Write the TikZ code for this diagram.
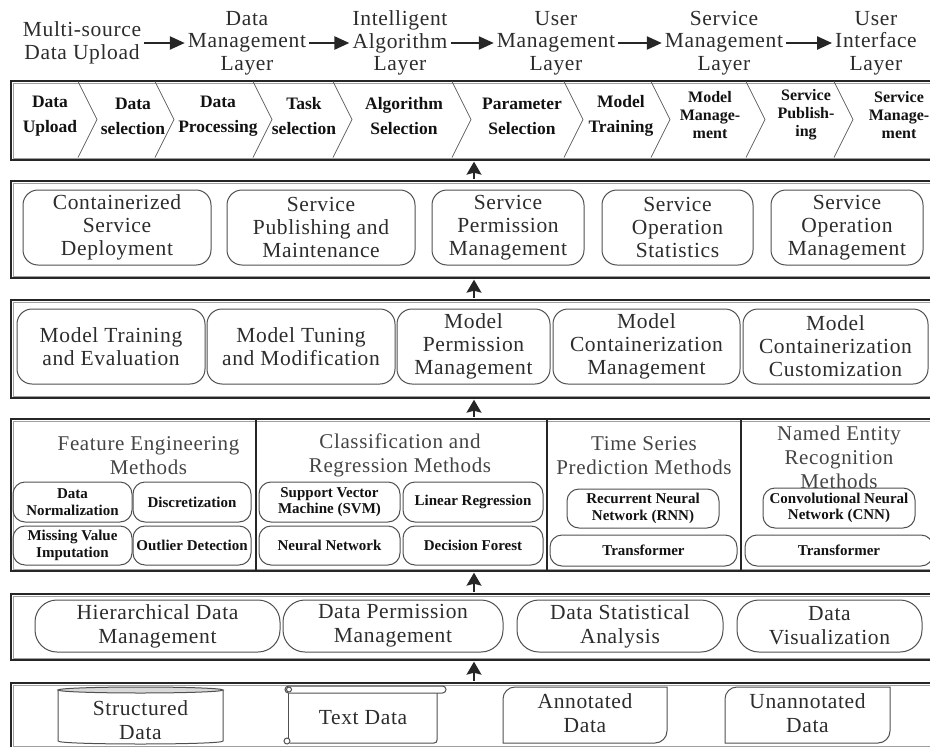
\documentclass[tikz,border=0pt]{standalone}
\usepackage{fontspec}
\setmainfont{Liberation Serif}[LetterSpace=3]
\newfontfamily\boldlbl{Liberation Serif}
\usetikzlibrary{arrows.meta,calc}

\definecolor{ink}{HTML}{2C2C2C}
\definecolor{boldink}{HTML}{121212}
\definecolor{frame}{HTML}{262626}
\definecolor{edge}{HTML}{505050}
\definecolor{titleink}{HTML}{444444}

\tikzset{
  every node/.style={align=center, inner sep=0pt, text=ink},
  layer/.style={draw=frame, line width=1.8pt, rectangle, anchor=north west, minimum width=940pt},
  innerframe/.style={draw=gray!75, line width=0.5pt},
  toptxt/.style={font=\fontsize{21.5}{22.5}\selectfont},
  flowarrow/.style={draw=frame, line width=2.4pt, -{Triangle[length=15pt,width=13pt]}, shorten <=3pt, shorten >=3pt},
  uparrow/.style={draw=frame, line width=1.3pt, -{Stealth[length=13pt,width=15pt,inset=2pt]}, shorten >=0.9pt, shorten <=0.9pt},
  chevline/.style={draw=gray!80!black, line width=0.8pt},
  chevtxt/.style={font=\boldlbl\bfseries\fontsize{17.5}{25}\selectfont, text=boldink},
  chevtxtsm/.style={font=\boldlbl\bfseries\fontsize{16}{18}\selectfont, text=boldink},
  rbox/.style={draw=edge, line width=1pt, rounded corners=15pt, font=\fontsize{21.5}{23}\selectfont},
  dbox/.style={rbox, rounded corners=22pt, font=\fontsize{21.5}{24}\selectfont},
  sbox/.style={draw=edge, line width=1pt, rounded corners=12pt, font=\boldlbl\bfseries\fontsize{15}{16.5}\selectfont, text=boldink},
  sectitle/.style={font=\fontsize{21}{24}\selectfont, text=titleink},
  divider/.style={draw=frame, line width=1.5pt},
  srcline/.style={draw=edge, line width=1pt},
  srctxt/.style={font=\fontsize{21.5}{24}\selectfont}
}

\begin{document}
\begin{tikzpicture}[x=1pt,y=-1pt]
\useasboundingbox (0,0) rectangle (930,747);
\clip (0,0) rectangle (930,747);

% ---- layer headings and flow ----
\node[toptxt] (h1) at (82,43) {Multi-source\\Data Upload};
\node[toptxt] (h2) at (247,43) {Data\\Management\\Layer};
\node[toptxt] (h3) at (400,43) {Intelligent\\Algorithm\\Layer};
\node[toptxt] (h4) at (556,43) {User\\Management\\Layer};
\node[toptxt] (h5) at (724,43) {Service\\Management\\Layer};
\node[toptxt] (h6) at (876,43) {User\\Interface\\Layer};
\draw[flowarrow] (h1) -- (h2);
\draw[flowarrow] (h2) -- (h3);
\draw[flowarrow] (h3) -- (h4);
\draw[flowarrow] (h4) -- (h5);
\draw[flowarrow] (h5) -- (h6);

% ---- layer frames ----
\node[layer, minimum height=79pt] (chev) at (10,80) {};
\node[layer, minimum height=97pt] (serv) at (10,180) {};
\node[layer, minimum height=98pt] (model) at (10,299) {};
\node[layer, minimum height=152pt] (algo) at (10,418) {};
\node[layer, minimum height=66pt] (dmgmt) at (10,593) {};
\node[layer, minimum height=65pt] (src) at (10,682) {};
\foreach \n in {chev,serv,model,algo,dmgmt,src}
  \draw[innerframe] ($(\n.north west)+(2.8,2.8)$) rectangle ($(\n.south east)+(-2.8,-2.8)$);

% ---- arrows between layers ----
\coordinate (ax) at (474,0);
\draw[uparrow] (serv.north -| ax) -- (chev.south -| ax);
\draw[uparrow] (model.north -| ax) -- (serv.south -| ax);
\draw[uparrow] (algo.north -| ax) -- (model.south -| ax);
\draw[uparrow] (dmgmt.north -| ax) -- (algo.south -| ax);
\draw[uparrow] (src.north -| ax) -- (dmgmt.south -| ax);

% ---- process chevrons ----
\foreach \xt in {78,155,253,333,452,564,651,746,834}
  \draw[chevline] (\xt,81.5) -- (\xt+19,119.5) -- (\xt,157.5);
\node[chevtxt] (c1) at (50,116) {Data\\Upload};
\node[chevtxt] (c2) at (133,116) {Data\\selection};
\node[chevtxt] (c3) at (218,116) {Data\\Processing};
\node[chevtxt] (c4) at (304,116) {Task\\selection};
\node[chevtxt] (c5) at (404,116) {Algorithm\\Selection};
\node[chevtxt] (c6) at (522,116) {Parameter\\Selection};
\node[chevtxt] (c7) at (621,116) {Model\\Training};
\node[chevtxtsm] (c8) at (710,115) {Model\\Manage-\\ment};
\node[chevtxtsm] (c9) at (806,115) {Service\\Publish-\\ing};
\node[chevtxtsm] (c10) at (899,115) {Service\\Manage-\\ment};

% ---- service layer ----
\node[rbox, minimum width=188pt, minimum height=75pt] (s1) at (117,227.5) {Containerized\\Service\\Deployment};
\node[rbox, minimum width=188pt, minimum height=75pt] (s2) at (321,227.5) {Service\\Publishing and\\Maintenance};
\node[rbox, minimum width=152pt, minimum height=75pt] (s3) at (508,227.5) {Service\\Permission\\Management};
\node[rbox, minimum width=151pt, minimum height=75pt] (s4) at (677.5,227.5) {Service\\Operation\\Statistics};
\node[rbox, minimum width=152pt, minimum height=75pt] (s5) at (847,227.5) {Service\\Operation\\Management};

% ---- model layer ----
\node[rbox, minimum width=188pt, minimum height=75pt] (m1) at (111,346.5) {Model Training\\and Evaluation};
\node[rbox, minimum width=188pt, minimum height=75pt] (m2) at (301,346.5) {Model Tuning\\and Modification};
\node[rbox, minimum width=153pt, minimum height=75pt] (m3) at (473.5,346.5) {Model\\Permission\\Management};
\node[rbox, minimum width=187pt, minimum height=75pt] (m4) at (646.5,346.5) {Model\\Containerization\\Management};
\node[rbox, minimum width=185pt, minimum height=75pt] (m5) at (835.5,346.5) {Model\\Containerization\\Customization};

% ---- algorithm layer ----
\draw[divider] (256,418) -- (256,570);
\draw[divider] (547,418) -- (547,570);
\draw[divider] (741,418) -- (741,570);
\node[sectitle] (fet) at (148.5,455.5) {Feature Engineering\\Methods};
\node[sectitle] (crt) at (400,455.5) {Classification and\\Regression Methods};
\node[sectitle] (tst) at (644,455.5) {Time Series\\Prediction Methods};
\node[sectitle] (net) at (839,457) {Named Entity\\Recognition\\Methods};

\node[sbox, minimum width=119pt, minimum height=40pt] (fe1) at (72.5,502) {Data\\Normalization};
\node[sbox, minimum width=118pt, minimum height=40pt] (fe2) at (192,502) {Discretization};
\node[sbox, minimum width=119pt, minimum height=39pt] (fe3) at (72.5,545.5) {Missing Value\\Imputation};
\node[sbox, minimum width=118pt, minimum height=39pt] (fe4) at (192,545.5) {Outlier Detection};
\node[sbox, minimum width=141pt, minimum height=40pt] (cr1) at (329.5,502) {Support Vector\\Machine (SVM)};
\node[sbox, minimum width=140pt, minimum height=40pt] (cr2) at (473,502) {Linear Regression};
\node[sbox, minimum width=141pt, minimum height=39pt] (cr3) at (329.5,545.5) {Neural Network};
\node[sbox, minimum width=140pt, minimum height=39pt] (cr4) at (473,545.5) {Decision Forest};
\node[sbox, minimum width=152pt, minimum height=39pt] (ts1) at (643,508.5) {Recurrent Neural\\Network (RNN)};
\node[sbox, minimum width=187pt, minimum height=31pt] (ts2) at (643.5,550.5) {Transformer};
\node[sbox, minimum width=152pt, minimum height=40pt] (ne1) at (839,508) {Convolutional Neural\\Network (CNN)};
\node[sbox, minimum width=188pt, minimum height=31pt] (ne2) at (839,550.5) {Transformer};

% ---- data management layer ----
\node[dbox, minimum width=245pt, minimum height=52pt] (d1) at (157.5,626) {Hierarchical Data\\Management};
\node[dbox, minimum width=220pt, minimum height=52pt] (d2) at (393,626) {Data Permission\\Management};
\node[dbox, minimum width=206pt, minimum height=52pt] (d3) at (620,626) {Data Statistical\\Analysis};
\node[dbox, minimum width=185pt, minimum height=52pt] (d4) at (829.5,626) {Data\\Visualization};

% ---- data sources ----
% database cylinder
\draw[srcline] (58,690) -- (58,741) .. controls (58,745) and (223,745) .. (223,741) -- (223,690);
\draw[srcline, fill=gray!30] (140.5,690) ellipse [x radius=82.5, y radius=3];
\node[srctxt] (struct) at (140.5,720) {Structured\\Data};

% paper scroll
\draw[srcline] (288,693) -- (288,741);
\draw[srcline] (437,693) -- (437,740) .. controls (437,742) and (436,743) .. (434,743) -- (290,743);
\draw[srcline, rounded corners=3.5pt, fill=white] (285,686) rectangle (446,693);
\draw[srcline] (289,689.5) circle [radius=2.5pt];
\draw[srcline, fill=white] (287,741) circle [radius=3pt];
\node[srctxt] (textd) at (363,718) {Text Data};

% documents with two rounded corners
\draw[srcline] (503,743) -- (503,699) .. controls (503,692.4) and (508.4,687) .. (515,687) -- (667,687) -- (667,731) .. controls (667,737.6) and (661.6,743) .. (655,743) -- cycle;
\node[srctxt] (annot) at (585,713) {Annotated\\Data};
\draw[srcline] (725,743) -- (725,699) .. controls (725,692.4) and (730.4,687) .. (737,687) -- (890,687) -- (890,731) .. controls (890,737.6) and (884.6,743) .. (878,743) -- cycle;
\node[srctxt] (unannot) at (807.5,713) {Unannotated\\Data};
\end{tikzpicture}
\end{document}
